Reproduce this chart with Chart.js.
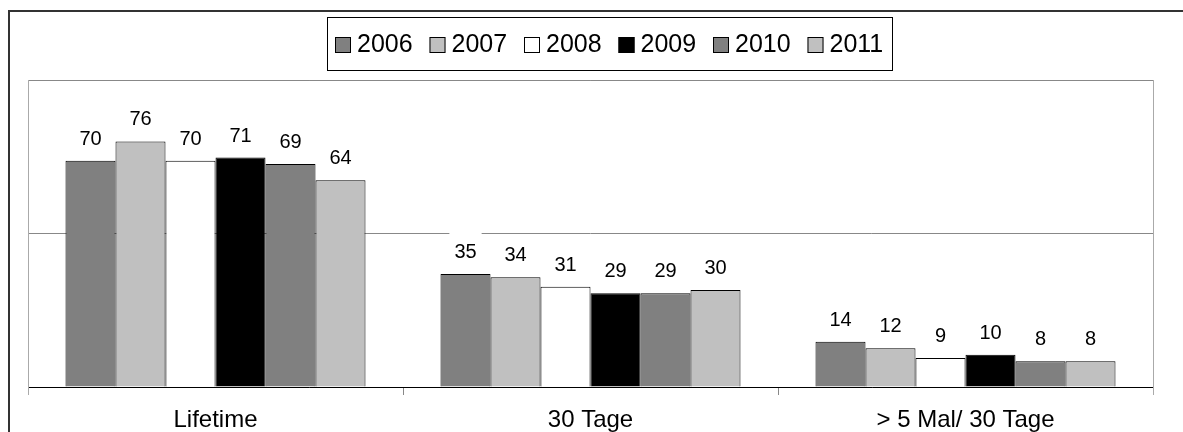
<!DOCTYPE html>
<html>
<head>
<meta charset="utf-8">
<script src="https://cdn.jsdelivr.net/npm/chart.js@4"></script>
<style>
  html, body { margin: 0; padding: 0; background: #fff; overflow: hidden; }
  #wrap { width: 1183px; height: 432px; }
</style>
</head>
<body>
<div id="wrap"><canvas id="chart" width="1183" height="432"></canvas></div>
<script>
// --- data ---
const categories = ['Lifetime', '30 Tage', '> 5 Mal/ 30 Tage'];
const years = ['2006', '2007', '2008', '2009', '2010', '2011'];
const v2006 = [70, 35, 14];
const v2007 = [76, 34, 12];
const v2008 = [70, 31, 9];
const v2009 = [71, 29, 10];
const v2010 = [69, 29, 8];
const v2011 = [64, 30, 8];
const yMax = 95;
const yStep = 47.5;

const seriesValues = [v2006, v2007, v2008, v2009, v2010, v2011];
const fills = ['#808080', '#c0c0c0', '#ffffff', '#000000', '#808080', '#c0c0c0'];
const FONT = '"Liberation Sans", Arial, sans-serif';

// outer frame (cut off at right/bottom) + plot frame
const framePlugin = {
  id: 'frames',
  beforeDraw(chart) {
    const c = chart.ctx;
    c.save();
    c.fillStyle = '#fff';
    c.fillRect(0, 0, chart.width, chart.height);
    c.strokeStyle = '#333';
    c.lineWidth = 2;
    c.beginPath();
    c.moveTo(9, chart.height);
    c.lineTo(9, 11);
    c.lineTo(chart.width, 11);
    c.stroke();
    c.restore();
  },
  beforeDatasetsDraw(chart) {
    const a = chart.chartArea;
    const c = chart.ctx;
    c.save();
    c.lineWidth = 1;
    c.strokeStyle = '#888';
    c.beginPath();
    c.moveTo(a.left, a.top + 0.5);
    c.lineTo(a.right, a.top + 0.5);
    c.stroke();
    c.strokeStyle = '#aaa';
    c.beginPath();
    c.moveTo(a.left + 0.5, a.top);
    c.lineTo(a.left + 0.5, a.bottom + 8);
    c.moveTo(a.right + 0.5, a.top);
    c.lineTo(a.right + 0.5, a.bottom + 8);
    c.stroke();
    c.restore();
  }
};

// value labels with white background
const labelPlugin = {
  id: 'valueLabels',
  afterDatasetsDraw(chart) {
    const c = chart.ctx;
    c.save();
    c.font = '20px ' + FONT;
    c.textAlign = 'center';
    c.textBaseline = 'alphabetic';
    chart.data.datasets.forEach((ds, di) => {
      chart.getDatasetMeta(di).data.forEach((bar, i) => {
        const txt = String(ds.data[i]);
        const w = c.measureText(txt).width;
        const y = bar.y - 16;
        c.fillStyle = '#fff';
        c.fillRect(bar.x - w / 2 - 5, y - 25, w + 10, 30);
        c.fillStyle = '#000';
        c.fillText(txt, bar.x, y);
      });
    });
    c.restore();
  }
};

// boxed legend
const legendPlugin = {
  id: 'boxLegend',
  afterDraw(chart) {
    const c = chart.ctx;
    const left = 327.5, top = 17.5, right = 892.5, bottom = 70.5;
    c.save();
    c.fillStyle = '#fff';
    c.fillRect(left, top, right - left, bottom - top);
    c.strokeStyle = '#000';
    c.lineWidth = 1;
    c.strokeRect(left, top, right - left, bottom - top);
    c.font = '25px ' + FONT;
    c.textBaseline = 'middle';
    c.textAlign = 'left';
    let x = 335;
    chart.data.datasets.forEach(ds => {
      c.fillStyle = ds.backgroundColor;
      c.fillRect(x, 37, 16, 16);
      c.strokeStyle = '#000';
      c.strokeRect(x + 0.5, 37.5, 15, 15);
      c.fillStyle = '#000';
      c.fillText(ds.label, x + 22, 45);
      x += 94.5;
    });
    c.restore();
  }
};

new Chart(document.getElementById('chart'), {
  type: 'bar',
  data: {
    labels: categories,
    datasets: years.map((y, i) => ({
      label: y,
      data: seriesValues[i],
      backgroundColor: fills[i],
      borderColor: '#000',
      borderWidth: 1,
      categoryPercentage: 0.8,
      barPercentage: 1.0
    }))
  },
  options: {
    responsive: false,
    devicePixelRatio: 1,
    animation: false,
    layout: { padding: { left: 28, right: 30, top: 80, bottom: 0 } },
    plugins: {
      legend: { display: false },
      tooltip: { enabled: false }
    },
    scales: {
      x: {
        afterFit(scale) { scale.height = 45; },
        grid: {
          drawOnChartArea: false,
          tickLength: 8,
          tickColor: ctx => (ctx.index === 1 || ctx.index === 2) ? '#888' : 'transparent'
        },
        border: { color: '#000', width: 1 },
        ticks: { color: '#000', font: { family: FONT, size: 24 }, padding: 11, maxRotation: 0 }
      },
      y: {
        min: 0,
        max: yMax,
        afterFit(scale) { scale.width = 0; },
        ticks: { display: false, stepSize: yStep },
        grid: { drawTicks: false, color: '#888' },
        border: { display: false }
      }
    }
  },
  plugins: [framePlugin, labelPlugin, legendPlugin]
});
</script>
</body>
</html>
